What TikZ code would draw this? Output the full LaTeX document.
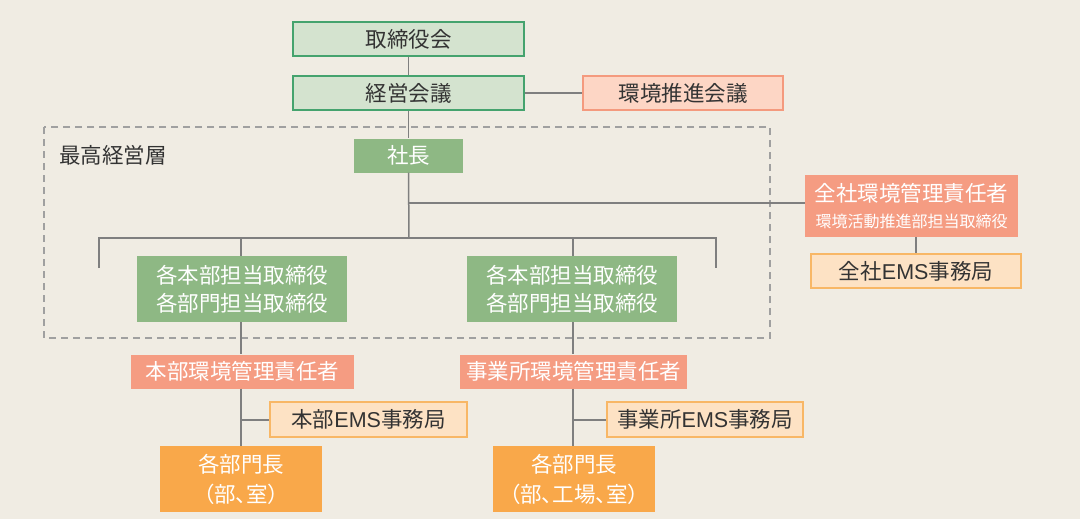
\documentclass[tikz,border=0pt]{standalone}
\usepackage{fontspec}
\setmainfont{Noto Sans CJK JP}
\newfontfamily\pfont[RawFeature=+palt]{Noto Sans CJK JP}
\newfontfamily\lsans{Liberation Sans}
\newcommand{\ems}{{\lsans EMS}}
\definecolor{bg}{HTML}{F0ECE3}
\definecolor{glfill}{HTML}{D4E3CF}
\definecolor{glborder}{HTML}{45A36E}
\definecolor{gdark}{HTML}{8EB884}
\definecolor{salmon}{HTML}{F59C82}
\definecolor{slfill}{HTML}{FDD6C5}
\definecolor{slborder}{HTML}{F49A7E}
\definecolor{orng}{HTML}{F9A84A}
\definecolor{olfill}{HTML}{FDE2C4}
\definecolor{olborder}{HTML}{F8B766}
\definecolor{lin}{HTML}{7F7F7F}
\definecolor{dsh}{HTML}{A0A0A0}
\definecolor{txt}{HTML}{333333}
\tikzset{
  box/.style={rectangle, inner sep=0pt, align=center, font=\fontsize{21.5}{28}\selectfont},
  gl/.style={box, fill=glfill, draw=glborder, line width=1.5pt, text=txt},
  sl/.style={box, fill=slfill, draw=slborder, line width=1.5pt, text=txt},
  ol/.style={box, fill=olfill, draw=olborder, line width=1.5pt, text=txt},
  gd/.style={box, fill=gdark, text=white},
  sa/.style={box, fill=salmon, text=white},
  og/.style={box, fill=orng, text=white},
  conn/.style={draw=lin, line width=1.5pt},
}
\begin{document}
\begin{tikzpicture}[x=1pt,y=-1pt]
\fill[white] (0,0) rectangle (1085,519);
\fill[bg] (0,0) rectangle (1080,519);
\useasboundingbox (0,0) rectangle (1085,519);
% dashed group
\draw[dsh, line width=1.5pt, dash pattern=on 7pt off 5pt] (44,127) rectangle (770,338);
\node[anchor=west, font=\fontsize{21.5}{26}\selectfont, text=txt, inner sep=0pt] (lbl) at (59,155) {最高経営層};
% nodes
\node[gl, minimum width=231pt, minimum height=34pt] (a) at (408.5,39) {取締役会};
\node[gl, minimum width=231pt, minimum height=34pt] (b) at (408.5,93) {経営会議};
\node[sl, minimum width=200pt, minimum height=34pt] (c) at (683,93) {環境推進会議};
\node[gd, minimum width=109pt, minimum height=34pt] (d) at (408.5,155.5) {社長};
\node[gd, minimum width=210pt, minimum height=66pt] (e) at (242,289) {各本部担当取締役\\各部門担当取締役};
\node[gd, minimum width=210pt, minimum height=66pt] (f) at (572,289) {各本部担当取締役\\各部門担当取締役};
\node[sa, minimum width=213pt, minimum height=62pt] (g) at (911.5,206) {全社環境管理責任者\\[-2pt]{\fontsize{16}{20}\selectfont 環境活動推進部担当取締役}};
\node[ol, minimum width=210pt, minimum height=34pt] (h) at (916,271) {全社\ems 事務局};
\node[sa, minimum width=223pt, minimum height=34pt] (i) at (242.5,371.5) {本部環境管理責任者};
\node[ol, minimum width=197pt, minimum height=35pt] (j) at (368.5,419.5) {本部\ems 事務局};
\node[og, minimum width=162pt, minimum height=66pt, font=\fontsize{21.5}{30}\selectfont] (k) at (241,479) {各部門長\\{\pfont （部、室）}};
\node[sa, minimum width=227pt, minimum height=34pt] (l) at (573.5,371.5) {事業所環境管理責任者};
\node[ol, minimum width=196pt, minimum height=35pt] (m) at (705,419.5) {事業所\ems 事務局};
\node[og, minimum width=162pt, minimum height=66pt, font=\fontsize{21.5}{30}\selectfont] (n) at (574,479) {各部門長\\{\pfont （部、工場、室）}};
% coordinates
\coordinate (bar) at (409,238);
\coordinate (barL) at (99,238);
\coordinate (barR) at (716,238);
\coordinate (dropL) at (99,268);
\coordinate (dropR) at (716,268);
\coordinate (brG) at (409,203);
\coordinate (eT) at (241,238);
\coordinate (fT) at (573,238);
\coordinate (jJ) at (241,420);
\coordinate (mJ) at (573,420);
\coordinate (hT) at (916,237);
% connectors
\draw[conn] (a.south) -- (b.north);
\draw[conn] (b.east) -- (c.west);
\draw[conn] (b.south) -- (d.north);
\draw[conn] (d.south) -- (bar);
\draw[conn] (brG) -- (g.west |- brG);
\draw[conn] (dropL) -- (barL) -- (barR) -- (dropR);
\draw[conn] (eT) -- (eT |- e.north);
\draw[conn] (fT) -- (fT |- f.north);
\draw[conn] (eT |- e.south) -- (eT |- i.north);
\draw[conn] (eT |- i.south) -- (eT |- k.north);
\draw[conn] (jJ) -- (j.west |- jJ);
\draw[conn] (fT |- f.south) -- (fT |- l.north);
\draw[conn] (fT |- l.south) -- (fT |- n.north);
\draw[conn] (mJ) -- (m.west |- mJ);
\draw[conn] (hT) -- (h.north);
\end{tikzpicture}
\end{document}
